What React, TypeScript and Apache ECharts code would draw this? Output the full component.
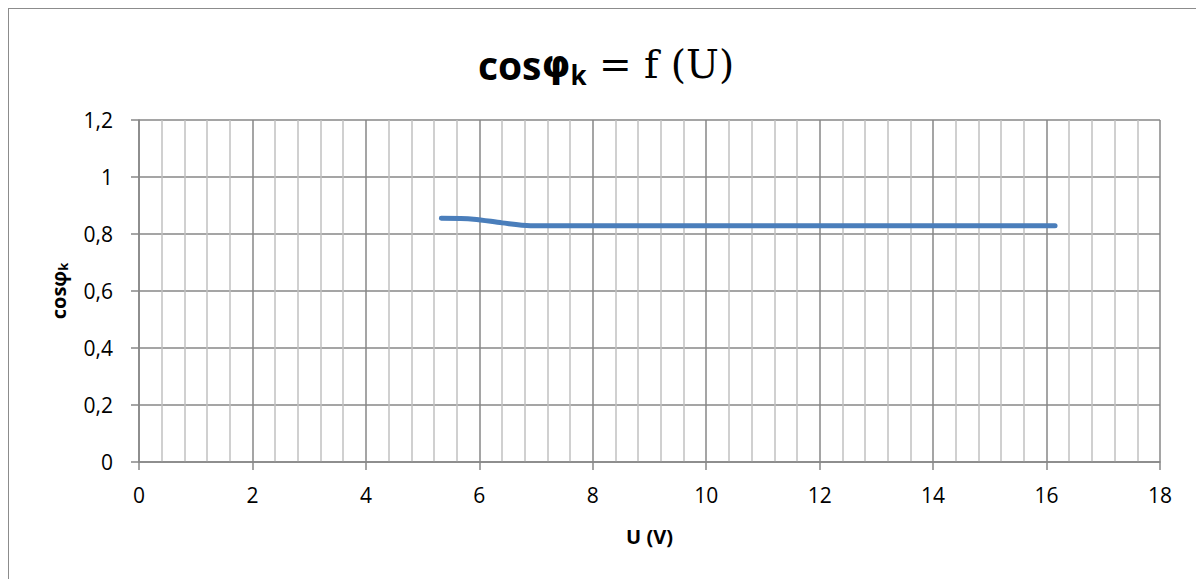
import React, { useEffect, useRef } from "react";
import * as echarts from "echarts";

const uValues = [5.33, 5.9, 6.4, 6.9, 8, 10, 12, 14, 16.15];
const cosValues = [0.855, 0.852, 0.839, 0.829, 0.829, 0.829, 0.829, 0.829, 0.829];
const xTicks = { min: 0, max: 18, interval: 2 };
const yTicks = { min: 0, max: 1.2, interval: 0.2 };

export default function App() {
  const ref = useRef<HTMLDivElement>(null);
  useEffect(() => {
    if (!ref.current) return;
    const chart = echarts.init(ref.current, null, { renderer: "svg" });
    const data = uValues.map((u, i) => [u, cosValues[i]]);
    const fmt = (v: number) => String(Math.round(v * 10) / 10).replace(".", ",");
    chart.setOption({
      animation: false,
      backgroundColor: "#ffffff",
      title: {
        text: "{a|cos}{p|φ}{b|k}{c| = f (U)}",
        left: "center",
        top: 26,
        textStyle: {
          rich: {
            a: { fontFamily: "Open Sans", fontWeight: "bold", fontSize: 39, color: "#000" },
            p: { fontFamily: "DejaVu Sans", fontWeight: "bold", fontSize: 37, color: "#000" },
            b: { fontFamily: "Open Sans", fontWeight: "bold", fontSize: 26, color: "#000", verticalAlign: "bottom", padding: [22, 0, 0, 0] },
            c: { fontFamily: "DejaVu Serif", fontWeight: "normal", fontSize: 39, color: "#000" },
          },
        },
      },
      grid: { left: 130, right: 43, top: 111, bottom: 145, containLabel: false },
      xAxis: {
        type: "value",
        min: xTicks.min,
        max: xTicks.max,
        interval: xTicks.interval,
        name: "U (V)",
        nameLocation: "middle",
        nameGap: 64,
        nameTextStyle: { fontFamily: "Open Sans", fontWeight: "bold", fontSize: 20, color: "#000" },
        axisLine: { show: true, lineStyle: { color: "#878787", width: 1.5 } },
        axisTick: { show: true, length: 8, lineStyle: { color: "#878787", width: 1.5 } },
        axisLabel: { fontFamily: "Open Sans", fontSize: 21, color: "#000", margin: 22, formatter: fmt },
        splitLine: { show: true, lineStyle: { color: "#878787", width: 1.5 } },
        minorTick: { show: false, splitNumber: 5 },
        minorSplitLine: { show: true, lineStyle: { color: "#c0c0c0", width: 1.5 } },
      },
      yAxis: {
        type: "value",
        min: yTicks.min,
        max: yTicks.max,
        interval: yTicks.interval,
        name: "{a|cosφ}{b|k}",
        nameLocation: "middle",
        nameGap: 70,
        nameRotate: 90,
        nameTextStyle: {
          rich: {
            a: { fontFamily: "Open Sans", fontWeight: "bold", fontSize: 20, color: "#000" },
            b: { fontFamily: "Open Sans", fontWeight: "bold", fontSize: 13, color: "#000", verticalAlign: "bottom", padding: [9, 0, 0, 0] },
          },
        },
        axisLine: { show: true, lineStyle: { color: "#878787", width: 1.5 } },
        axisTick: { show: true, length: 8, lineStyle: { color: "#878787", width: 1.5 } },
        axisLabel: { fontFamily: "Open Sans", fontSize: 21, color: "#000", margin: 26, formatter: fmt },
        splitLine: { show: true, lineStyle: { color: "#878787", width: 1.5 } },
      },
      series: [
        {
          type: "line",
          data,
          smooth: 0.3,
          showSymbol: false,
          symbol: "none",
          lineStyle: { color: "#4a7ebb", width: 5, cap: "round" },
        },
      ],
    });
    return () => chart.dispose();
  }, []);
  return (
    <div
      style={{ width: 1196, height: 600, border: "1px solid #8c8c8c", boxSizing: "border-box" }}
    >
      <div ref={ref} style={{ width: 1194, height: 598 }} />
    </div>
  );
}
